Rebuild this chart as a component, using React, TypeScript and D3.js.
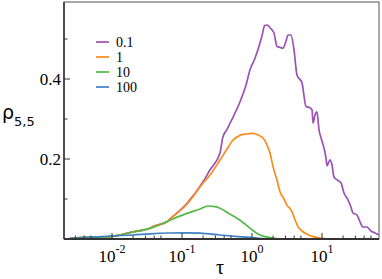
import * as d3 from "d3";

// tau / rho_{5,5} readings for each curve
const series01: [number, number][] = [
  [0.0025, 0.001], [0.00316, 0.003], [0.00936, 0.006], [0.02, 0.018], [0.0349, 0.027],
  [0.0385, 0.031], [0.061, 0.043], [0.0674, 0.05], [0.118, 0.089], [0.2, 0.143],
  [0.251, 0.173], [0.349, 0.215], [0.381, 0.253], [0.435, 0.273], [0.513, 0.298],
  [0.674, 0.343], [0.821, 0.385], [0.936, 0.423], [1.104, 0.452], [1.39, 0.508],
  [1.51, 0.533], [1.64, 0.535], [1.807, 0.528], [2.06, 0.515], [2.276, 0.481],
  [2.512, 0.479], [2.77, 0.477], [3.06, 0.495], [3.27, 0.51], [3.61, 0.51],
  [3.98, 0.473], [4.39, 0.41], [5.18, 0.39], [5.91, 0.331], [6.74, 0.328],
  [7.2, 0.323], [7.44, 0.29], [7.94, 0.31], [8.48, 0.318], [9.06, 0.273],
  [9.68, 0.253], [11.4, 0.203], [11.8, 0.183], [13.0, 0.198], [13.9, 0.185],
  [14.8, 0.155], [16.4, 0.148], [18.7, 0.14], [20.6, 0.115], [23.5, 0.098],
  [25.9, 0.08], [27.7, 0.065], [31.6, 0.06], [34.9, 0.043], [38.5, 0.03],
  [43.9, 0.03], [50.1, 0.02], [57.2, 0.015], [65.2, 0.01],
];
const series1: [number, number][] = [
  [0.0025, 0.001], [0.00316, 0.003], [0.00936, 0.006], [0.02, 0.018], [0.0349, 0.027],
  [0.0385, 0.031], [0.061, 0.043], [0.0674, 0.05], [0.118, 0.0875], [0.2, 0.14],
  [0.251, 0.16], [0.349, 0.1975], [0.439, 0.225], [0.536, 0.2475], [0.674, 0.259],
  [0.821, 0.2625], [1.033, 0.264], [1.218, 0.26], [1.436, 0.2525], [1.64, 0.235],
  [1.807, 0.215], [1.995, 0.181], [2.276, 0.1475], [2.512, 0.118], [2.865, 0.1],
  [3.162, 0.084], [3.49, 0.076], [3.73, 0.068], [4.11, 0.048], [4.54, 0.031],
  [5.18, 0.02], [6.11, 0.012], [7.44, 0.006], [9.36, 0.0025], [13.0, 0.0],
];
const series10: [number, number][] = [
  [0.0025, 0.001], [0.00316, 0.003], [0.00936, 0.006], [0.02, 0.0175], [0.0385, 0.029],
  [0.0674, 0.047], [0.118, 0.064], [0.181, 0.075], [0.235, 0.0825], [0.296, 0.081],
  [0.349, 0.077], [0.454, 0.065], [0.61, 0.052], [0.794, 0.0375], [0.936, 0.027],
  [1.179, 0.014], [1.534, 0.006], [1.995, 0.0025], [2.512, 0.0],
];
const series100: [number, number][] = [
  [0.0025, 0.001], [0.00485, 0.004], [0.00936, 0.0075], [0.02, 0.01], [0.0349, 0.013],
  [0.0674, 0.015], [0.11, 0.0155], [0.181, 0.0145], [0.349, 0.01], [0.572, 0.0065],
  [0.936, 0.004], [1.39, 0.001], [1.8, 0.0],
];

const labels = ["0.1", "1", "10", "100"];
const colors = ["#9b52b4", "#ff8a1c", "#52b84a", "#3f80c4"];
const allSeries = [series01, series1, series10, series100];

const yMajor = [0.2, 0.4];
const yMinor = [0.1, 0.3, 0.5];
const xMajor = [-2, -1, 0, 1];

const width = 382;
const height = 279;
const left = 64;
const right = 379;
const top = 2;
const bottom = 239;

export default function App() {
  const x = d3.scaleLog().domain([0.00206, 65.2]).range([left, right]);
  const y = d3.scaleLinear().domain([0, 0.5925]).range([bottom, top]);

  const line = d3
    .line<[number, number]>()
    .x((d) => x(d[0]))
    .y((d) => y(d[1]))
    .curve(d3.curveMonotoneX);

  // minor ticks only at 2..5 of each decade
  const xMinor: number[] = [];
  for (let e = -3; e <= 1; e++) {
    for (const m of [2, 3, 4, 5]) {
      const v = m * Math.pow(10, e);
      if (x(v) > left + 1 && x(v) < right - 1) xMinor.push(v);
    }
  }

  const serif = "Liberation Serif, Times New Roman, serif";

  return (
    <svg
      width={width}
      height={height}
      style={{ position: "absolute", left: 0, top: 0, background: "#fff" }}
    >
      <defs>
        <clipPath id="plot">
          <rect x={left} y={top} width={right - left} height={bottom - top} />
        </clipPath>
      </defs>

      {/* frame */}
      <rect x={left} y={top} width={right - left} height={bottom - top}
        fill="none" stroke="#555" strokeWidth={1} />

      {/* curves */}
      <g clipPath="url(#plot)">
        {allSeries.map((s, i) => (
          <path key={i} d={line(s) ?? ""} fill="none" stroke={colors[i]} strokeWidth={1.7} />
        ))}
      </g>

      {/* axes */}
      <line x1={left} x2={right} y1={bottom} y2={bottom} stroke="#333" strokeWidth={2} />
      <line x1={left} x2={left} y1={top} y2={bottom} stroke="#333" strokeWidth={1.5} />

      {yMajor.map((v) => (
        <g key={v}>
          <line x1={left} x2={left + 6} y1={y(v)} y2={y(v)} stroke="#333" />
          <text x={left - 3} y={y(v) + 5.5} textAnchor="end" fontFamily={serif} fontSize={17}>
            {v.toFixed(1)}
          </text>
        </g>
      ))}
      {yMinor.map((v) => (
        <line key={v} x1={left} x2={left + 3.5} y1={y(v)} y2={y(v)} stroke="#333" />
      ))}

      {xMajor.map((e) => {
        const px = x(Math.pow(10, e));
        return (
          <g key={e}>
            <line x1={px} x2={px} y1={bottom} y2={bottom - 6} stroke="#333" />
            <text x={px} y={262} textAnchor="middle" fontFamily={serif} fontSize={17}>
              10
              <tspan dy={-9} fontSize={12}>{e}</tspan>
            </text>
          </g>
        );
      })}
      {xMinor.map((v) => (
        <line key={v} x1={x(v)} x2={x(v)} y1={bottom} y2={bottom - 3.5} stroke="#333" />
      ))}

      {/* axis labels */}
      <text x={2} y={119} fontFamily="DejaVu Sans, sans-serif" fontSize={19}>
        ρ
        <tspan dy={7} fontSize={13}>5,5</tspan>
      </text>
      <text x={216} y={274} fontFamily={serif} fontSize={20}>τ</text>

      {/* legend */}
      {labels.map((l, i) => {
        const ry = 42 + i * 15;
        return (
          <g key={l}>
            <line x1={96} x2={109} y1={ry} y2={ry} stroke={colors[i]} strokeWidth={1.7} />
            <text x={116} y={ry + 5} fontFamily={serif} fontSize={14}>{l}</text>
          </g>
        );
      })}
    </svg>
  );
}
